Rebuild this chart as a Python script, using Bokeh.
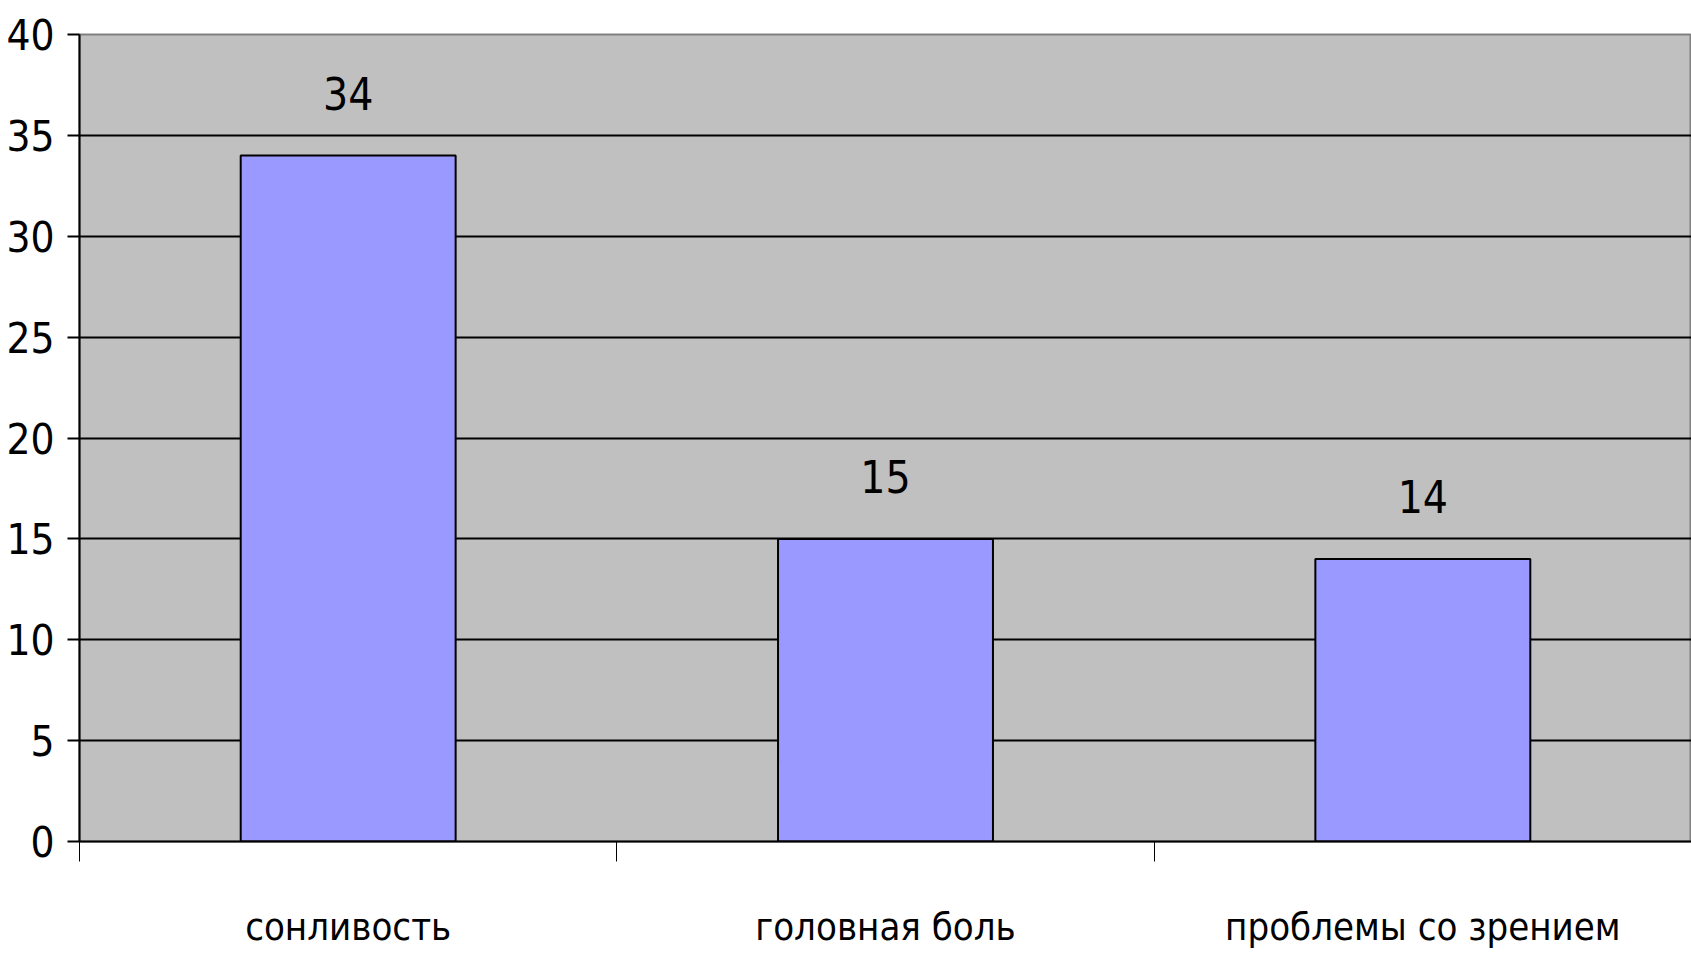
from bokeh.plotting import figure
from bokeh.models import (Range1d, LinearAxis, FixedTicker, ColumnDataSource, LabelSet)
from bokeh.core.properties import value
from bokeh.embed import file_html
from bokeh.resources import INLINE

# ---- data ----
categories = ["сонливость", "головная боль", "проблемы со зрением"]
values = [34, 15, 14]
y_ticks = [0, 5, 10, 15, 20, 25, 30, 35, 40]

FONT = "DejaVu Sans Condensed"

n = len(categories)
centers = [i + 0.5 for i in range(n)]
src = ColumnDataSource(dict(x=centers, top=values, label=[str(v) for v in values]))

p = figure(x_range=Range1d(0, n),
           y_range=Range1d(y_ticks[0], y_ticks[-1]),
           frame_width=1612, frame_height=807,
           min_border_left=79, min_border_top=34, min_border_right=0, min_border_bottom=0,
           x_axis_location=None, y_axis_location="left",
           background_fill_color="#C0C0C0", border_fill_color="white",
           output_backend="svg", toolbar_location=None)

p.outline_line_color = "#808080"
p.outline_line_width = 2

p.vbar(x="x", top="top", width=0.4, source=src,
       fill_color="#9999FF", line_color="black", line_width=2)

labels = LabelSet(x="x", y="top", text="label", source=src, text_align="center",
                  text_baseline="bottom", y_offset=46, text_font=value(FONT),
                  text_font_size="44px", text_color="black")
p.add_layout(labels)

# grid
p.xgrid.visible = False
p.ygrid.ticker = FixedTicker(ticks=y_ticks[:-1])
p.ygrid.grid_line_color = "black"
p.ygrid.grid_line_width = 2

# y axis
ya = p.yaxis[0]
ya.ticker = FixedTicker(ticks=y_ticks)
ya.minor_tick_line_color = None
ya.major_tick_out = 12
ya.major_tick_in = 0
ya.major_tick_line_width = 2
ya.axis_line_width = 2
ya.axis_line_color = "black"
ya.major_label_text_font = FONT
ya.major_label_text_font_size = "42px"
ya.major_label_standoff = 13
ya.major_label_text_color = "black"

# category boundary ticks axis (nearest the frame)
ba = LinearAxis(ticker=FixedTicker(ticks=list(range(n + 1))),
                major_label_overrides={i: "" for i in range(n + 1)},
                major_label_text_font_size="1px",
                major_label_standoff=0)
ba.minor_tick_line_color = None
ba.major_tick_out = 20
ba.major_tick_in = 0
ba.major_tick_line_width = 1
ba.axis_line_width = 2
ba.axis_line_color = "black"
p.add_layout(ba, "below")

# category labels axis
ca = LinearAxis(ticker=FixedTicker(ticks=centers),
                major_label_overrides={c: cat for c, cat in zip(centers, categories)})
ca.axis_line_color = None
ca.major_tick_line_color = None
ca.minor_tick_line_color = None
ca.major_tick_out = 0
ca.major_tick_in = 0
ca.major_label_text_font = FONT
ca.major_label_text_font_size = "38px"
ca.major_label_standoff = 43
ca.major_label_text_color = "black"
p.add_layout(ca, "below")

open("out.html", "w").write(file_html(p, INLINE))
